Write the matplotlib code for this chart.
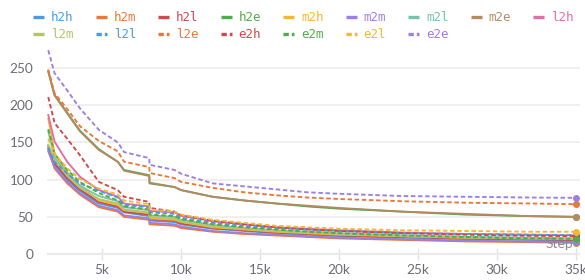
import matplotlib
matplotlib.use("Agg")
import matplotlib.pyplot as plt
from matplotlib.lines import Line2D
from matplotlib.ticker import FuncFormatter

# evaluation steps (8k has a drop, so two points close together)
steps = [1600, 2000, 2800, 3600, 4800, 6000, 6400, 7990, 8010, 9600, 10000,
         12000, 14000, 16000, 18000, 20000, 24000, 28000, 32000, 35000]

h2h = [142, 120, 100, 85, 68, 62, 56, 51, 45, 43, 40, 34, 31, 28, 26, 24, 22, 20, 19, 18]
h2m = [140, 115, 95, 80, 63, 57, 50, 46, 40, 38, 35, 30, 27, 25, 23, 21, 19, 17, 16, 15]
h2l = [145, 122, 102, 87, 70, 64, 57, 53, 47, 45, 41, 35, 32, 29, 27, 25, 23, 21, 20, 19]
h2e = [246, 214, 190, 166, 141, 124, 113, 106, 95, 90, 86, 77, 72, 68, 64, 61, 57, 53, 51, 50]
m2h = [182, 135, 110, 92, 72, 66, 59, 55, 48, 46, 43, 36, 33, 30, 28, 26, 24, 22, 21, 20]
m2m = [138, 117, 97, 82, 65, 59, 52, 48, 42, 40, 37, 31, 28, 26, 24, 22, 20, 18, 17, 16]
m2l = [165, 130, 108, 92, 78, 71, 63, 59, 52, 50, 46, 39, 35, 32, 30, 28, 25, 23, 22, 21]
m2e = [245, 213, 189, 165, 140, 124, 112, 105, 96, 90, 86, 77, 72, 68, 65, 62, 57, 54, 51, 50]
l2h = [187, 151, 124, 104, 86, 77, 68, 64, 58, 56, 52, 44, 40, 36, 34, 32, 29, 27, 26, 25]
l2m = [147, 126, 105, 89, 74, 68, 60, 56, 50, 48, 44, 37, 34, 31, 29, 27, 24, 22, 21, 20]
l2l = [143, 124, 108, 95, 85, 76, 66, 63, 56, 54, 49, 42, 38, 35, 33, 31, 28, 27, 26, 25.5]
l2e = [248, 216, 195, 172, 152, 138, 124, 117, 109, 102, 97, 89, 83, 79, 76, 74, 71, 69, 68, 67]
e2h = [211, 176, 155, 133, 97, 86, 77, 70, 62, 57, 52, 45, 40, 36, 33, 31, 28, 26, 24.5, 24]
e2m = [168, 135, 113, 97, 82, 72, 64, 60, 53, 51, 47, 40, 36, 33, 30, 28, 25, 23, 21, 20.5]
e2l = [155, 135, 115, 101, 88, 80, 72, 67, 60, 57, 53, 46, 42, 38, 36, 34, 32, 31, 30, 30]
e2e = [274, 243, 220, 196, 167, 150, 137, 129, 120, 113, 108, 95, 91, 87, 83, 81, 78, 77, 76, 75.5]

names = ["h2h", "h2m", "h2l", "h2e", "m2h", "m2m", "m2l", "m2e", "l2h",
         "l2m", "l2l", "l2e", "e2h", "e2m", "e2l", "e2e"]
series = [h2h, h2m, h2l, h2e, m2h, m2m, m2l, m2e, l2h,
          l2m, l2l, l2e, e2h, e2m, e2l, e2e]
colors = ["#4a9be0", "#e8773a", "#d0474c", "#4fab4b", "#f2b82f", "#9d7fe0",
          "#76c3a5", "#b38a62", "#de6ea9", "#b5c46a", "#4a9be0", "#e8773a",
          "#d0474c", "#4fab4b", "#f2b82f", "#9d7fe0"]
dashed = [False] * 10 + [True] * 6

fig = plt.figure(figsize=(5.85, 2.8), dpi=100)
ax = fig.add_axes([47 / 585, 20 / 280, 533 / 585, 215 / 280])

for name, vals, c, d in zip(names, series, colors, dashed):
    ls = (0, (2.4, 1.4)) if d else "-"
    ax.plot(steps, vals, color=c, lw=1.35, ls=ls)
    ax.plot(steps[-1], vals[-1], "o", color=c, ms=4, clip_on=False)

ax.set_xlim(1520, 35250)
ax.set_ylim(-8, 281)
ax.set_yticks([0, 50, 100, 150, 200, 250])
ax.set_xticks([5000, 10000, 15000, 20000, 25000, 30000, 35000])
ax.xaxis.set_major_formatter(FuncFormatter(lambda v, p: f"{int(v / 1000)}k"))
ax.grid(axis="y", color="#ececec", lw=1.2)
ax.axhline(0, color="#e2e2e2", lw=1.5, zorder=0)
for s in ax.spines.values():
    s.set_visible(False)
ax.tick_params(axis="y", length=0, pad=10, labelsize=9.8, labelcolor="#6b6b76")
ax.tick_params(axis="x", direction="in", length=9, width=1, color="#e2e2e2",
               pad=3, labelsize=9.8, labelcolor="#6b6b76")
for lab in ax.get_xticklabels() + ax.get_yticklabels():
    lab.set_family("Lato")

fig.text(573 / 585, 1 - 244 / 280, "Step", ha="right", va="center",
         fontsize=10, color="#8a8a94", family="Lato")

# legend: row-major order in a 9-column layout
order = [0, 9, 1, 10, 2, 11, 3, 12, 4, 13, 5, 14, 6, 15, 7, 8]
handles = []
for i in order:
    ls = (0, (1.6, 0.9)) if dashed[i] else "-"
    handles.append(Line2D([], [], color=colors[i], lw=2.4, ls=ls,
                          solid_capstyle="butt", dash_capstyle="butt"))
fig.legend(handles, [names[i] for i in order], ncol=9, loc="upper left",
           bbox_to_anchor=(33 / 585, 1 - 11 / 280), frameon=False,
           borderpad=0, borderaxespad=0, handlelength=0.9, handletextpad=0.55,
           columnspacing=1.75, labelspacing=0.35, labelcolor="linecolor",
           prop={"family": "DejaVu Sans Mono", "size": 9})

fig.savefig("out.png", dpi=100)
